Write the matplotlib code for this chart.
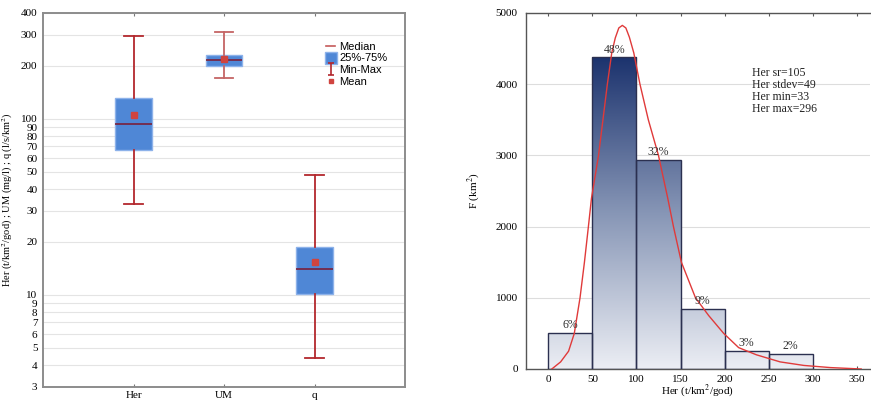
import numpy as np
import matplotlib.pyplot as plt
from matplotlib.patches import Rectangle
from matplotlib.lines import Line2D
from matplotlib.path import Path
from matplotlib.colors import LinearSegmentedColormap
from matplotlib.ticker import FixedLocator, FixedFormatter, NullLocator

plt.rcParams['font.family'] = ['Liberation Serif', 'DejaVu Serif']
plt.rcParams['mathtext.fontset'] = 'stix'

# box plot data
box_labels = ['Her', 'UM', 'q']
box_min = [33, 170, 4.4]
box_q1 = [67, 200, 10.1]
box_med = [94, 215, 14.1]
box_q3 = [131, 230, 18.7]
box_max = [296, 312, 48]
box_mean = [105, 218, 15.3]
log_ticks = [3, 4, 5, 6, 7, 8, 9, 10, 20, 30, 40, 50, 60, 70, 80, 90, 100, 200, 300, 400]

# histogram data
bin_left = [0, 50, 100, 150, 200, 250]
bin_width = 50
area = [510, 4377, 2934, 840, 258, 208]
pct_labels = ['6%', '48%', '32%', '9%', '3%', '2%']
curve_x = [4, 14, 23, 29.5, 36, 41, 45.5, 49, 57, 62, 67, 72, 76, 80, 84, 88, 92, 97, 104, 113.5,
           125, 135.5, 142, 151, 159, 167, 182, 199, 216, 236, 263, 290, 320, 355]
curve_y = [0, 100, 250, 500, 1000, 1500, 2000, 2400, 3000, 3500, 4000, 4440, 4650, 4790, 4826, 4790,
           4660, 4440, 4000, 3500, 3000, 2400, 2000, 1500, 1250, 1000, 750, 500, 300, 200, 100, 50, 20, 0]
stats_text = 'Her sr=105\nHer stdev=49\nHer min=33\nHer max=296'

fig = plt.figure(figsize=(8.71, 4.01), dpi=100)

# ---- left: box plot ----
ax1 = fig.add_axes([43 / 871, 1 - 387 / 401, 362 / 871, 374 / 401])
stats = []
for i in range(len(box_labels)):
    stats.append(dict(label=box_labels[i], whislo=box_min[i], q1=box_q1[i], med=box_med[i],
                      q3=box_q3[i], whishi=box_max[i], mean=box_mean[i]))
bp = ax1.bxp(stats, positions=[1, 2, 3], widths=0.4, patch_artist=True, showmeans=True,
             showfliers=False,
             boxprops=dict(facecolor='#4f87d6', edgecolor='#8db2ea', linewidth=1),
             medianprops=dict(color='#7a1f3a', linewidth=1.2),
             whiskerprops=dict(color='#b3282d', linewidth=1.3),
             capprops=dict(color='#b3282d', linewidth=1.3),
             meanprops=dict(marker='s', markerfacecolor='#d0443f', markeredgecolor='#d0443f',
                            markersize=4))
for caps in [bp['caps'][2:4], bp['whiskers'][2:4]]:
    for ln in caps:
        ln.set_color('#c56565')
for cap in bp['caps']:
    x0, x1 = cap.get_xdata()
    c = (x0 + x1) / 2
    cap.set_xdata([c - 0.1, c + 0.1])

ax1.set_yscale('log')
ax1.set_ylim(3, 400)
ax1.set_xlim(0, 4)
ax1.yaxis.set_major_locator(FixedLocator(log_ticks))
ax1.yaxis.set_major_formatter(FixedFormatter([str(t) for t in log_ticks]))
ax1.yaxis.set_minor_locator(NullLocator())
ax1.grid(axis='y', color='#e4e4e4', linewidth=0.8)
ax1.set_axisbelow(True)
ax1.set_xticks([1, 2, 3])
ax1.set_xticklabels(box_labels)
ax1.tick_params(axis='both', labelsize=8, length=2, direction='in', color='#777777',
                top=True, pad=3)
ax1.tick_params(axis='y', length=0, pad=4)
for s in ax1.spines.values():
    s.set_color('#8c8c8c')
    s.set_linewidth(1.4)
ax1.set_ylabel('Her (t/km$^2$/god) ; UM (mg/l) ; q (l/s/km$^2$)', fontsize=7.5)
ax1.yaxis.set_label_coords(-0.078, 0.5)

minmax_marker = Path([(-0.5, -1), (0.5, -1), (0, -1), (0, 1), (-0.5, 1), (0.5, 1)],
                     [Path.MOVETO, Path.LINETO, Path.MOVETO, Path.LINETO, Path.MOVETO, Path.LINETO])
handles = [
    Line2D([], [], color='#c55a5a', linewidth=1.2),
    Line2D([], [], linestyle='none', marker='s', markersize=8, markerfacecolor='#4f87d6',
           markeredgecolor='#8db2ea'),
    Line2D([], [], linestyle='none', marker=minmax_marker, markersize=9, markerfacecolor='none',
           markeredgecolor='#b3282d', markeredgewidth=1.2),
    Line2D([], [], linestyle='none', marker='s', markersize=3.5, markerfacecolor='#d0443f',
           markeredgecolor='#d0443f'),
]
ax1.legend(handles, ['Median', '25%-75%', 'Min-Max', 'Mean'], loc='upper left',
           bbox_to_anchor=(0.77, 0.935), frameon=False, handlelength=0.8, handletextpad=0.4,
           labelspacing=0.15, borderaxespad=0, prop=dict(family='Liberation Sans', size=8))

# ---- right: histogram ----
ax2 = fig.add_axes([526 / 871, 1 - 369 / 401, 344 / 871, 356 / 401])
cmap = LinearSegmentedColormap.from_list('navy_grad', ['#eceef4', '#8796b6', '#1c336e'])
top_val = max(area)
grad = np.linspace(0, 1, 256).reshape(-1, 1)
for x0, h in zip(bin_left, area):
    rect = Rectangle((x0, 0), bin_width, h, facecolor='none', edgecolor='#2b3050',
                     linewidth=1, zorder=3)
    ax2.add_patch(rect)
    im = ax2.imshow(grad, cmap=cmap, origin='lower', aspect='auto',
                    extent=[x0, x0 + bin_width, 0, top_val], zorder=2, interpolation='bilinear')
    im.set_clip_path(rect)

for x0, h, lab in zip(bin_left, area, pct_labels):
    ax2.text(x0 + bin_width / 2, h + 25, lab, ha='center', va='bottom', fontsize=8.5,
             color='#333333', zorder=5)

ax2.plot(curve_x, curve_y, color='#e03a3a', linewidth=1, zorder=4)
ax2.text(231, 4240, stats_text, fontsize=8.5, va='top', ha='left', linespacing=1.0,
         color='#222222', zorder=5)

ax2.set_xlim(-25.3, 365)
ax2.set_ylim(0, 5000)
ax2.set_xticks(range(0, 351, 50))
ax2.set_yticks(range(0, 5001, 1000))
ax2.grid(axis='y', color='#dddddd', linewidth=0.8)
ax2.set_axisbelow(True)
ax2.tick_params(axis='both', labelsize=8, length=2.5, direction='in', color='#555555', top=True)
ax2.tick_params(axis='y', length=0, pad=6)
ax2.tick_params(axis='x', pad=4)
for s in ax2.spines.values():
    s.set_color('#555555')
    s.set_linewidth(1)
ax2.spines['right'].set_visible(False)
ax2.set_xlabel('Her (t/km$^2$/god)', fontsize=8, labelpad=-1)
ax2.set_ylabel('F (km$^2$)', fontsize=8, labelpad=10)

fig.savefig('out.png', dpi=100)
